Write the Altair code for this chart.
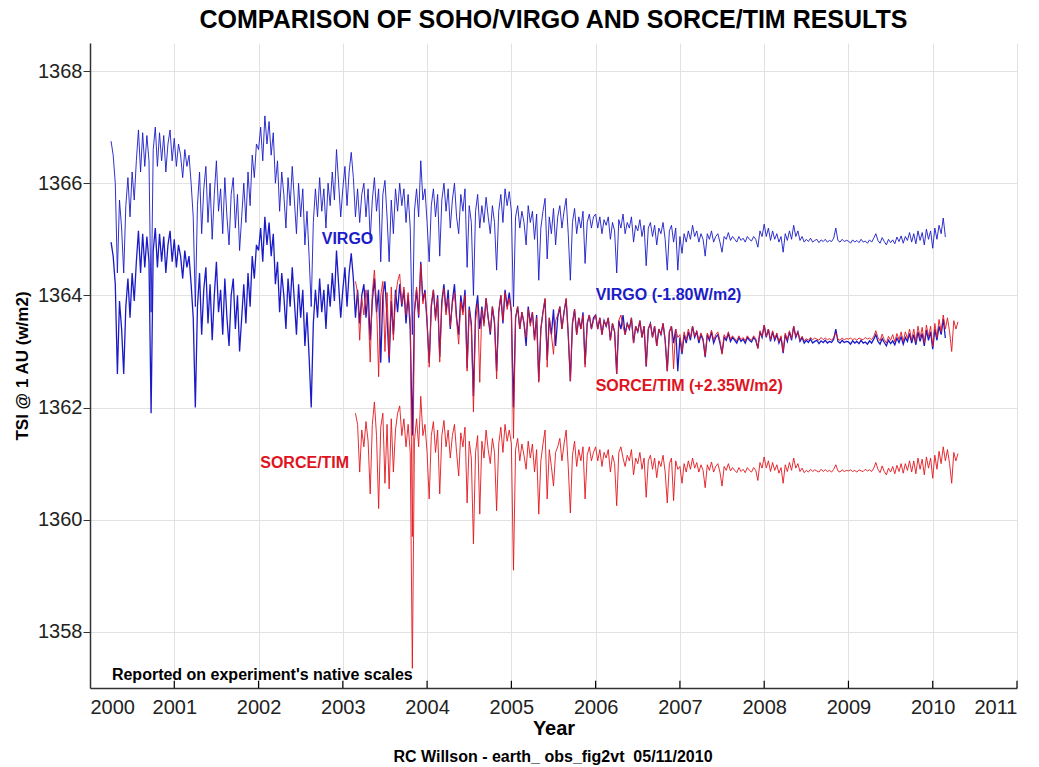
import altair as alt
import pandas as pd

STEP = 0.025  # years between readings

# ---------------- VIRGO (native scale), 2000.25 .. 2010.15 ----------------
virgo_start = 2000.25
virgo_2000 = [1366.75, 1366.50, 1366.00, 1364.40, 1365.70, 1365.20, 1364.40, 1365.60, 1366.10, 1365.40,
              1366.20, 1365.70, 1366.40, 1366.95, 1366.20, 1366.90, 1366.30, 1366.85, 1366.40, 1363.70,
              1366.60, 1367.00, 1366.30, 1366.90, 1366.40, 1366.85, 1366.20, 1366.70, 1366.95, 1366.40]
virgo_2001 = [1366.80, 1366.30, 1366.70, 1366.50, 1366.10, 1366.60, 1366.30, 1366.50, 1366.00, 1365.40,
              1363.80, 1365.60, 1366.20, 1365.10, 1365.90, 1366.30, 1365.30, 1366.00, 1365.00, 1365.80,
              1366.40, 1365.50, 1365.90, 1365.10, 1366.10, 1365.40, 1364.90, 1365.80, 1366.10, 1365.20,
              1365.80, 1364.80, 1365.40, 1366.00, 1365.30, 1366.20, 1365.60, 1366.50, 1366.10, 1366.70]
virgo_2002 = [1366.60, 1367.00, 1366.40, 1367.20, 1366.70, 1367.10, 1366.50, 1366.90, 1366.00, 1366.40,
              1365.50, 1366.20, 1365.80, 1365.20, 1366.10, 1365.60, 1366.30, 1365.70, 1365.10, 1366.00,
              1365.40, 1365.90, 1364.90, 1365.50, 1364.70, 1363.80, 1365.30, 1365.90, 1365.40, 1366.10,
              1365.50, 1365.90, 1365.20, 1366.00, 1365.60, 1366.20, 1365.70, 1366.60, 1366.00, 1365.40]
virgo_2003 = [1365.90, 1366.30, 1365.60, 1366.20, 1366.55, 1366.10, 1365.40, 1365.90, 1365.30, 1365.80,
              1366.00, 1365.40, 1365.90, 1365.00, 1365.70, 1366.10, 1365.50, 1365.90, 1364.60, 1365.80,
              1366.05, 1365.40, 1364.60, 1365.70, 1365.10, 1365.90, 1365.50, 1366.00, 1365.60, 1365.90,
              1365.30, 1365.80, 1365.20, 1363.30, 1365.50, 1365.90, 1365.40, 1366.40, 1365.70, 1365.90]
virgo_2004 = [1365.30, 1364.60, 1365.60, 1365.90, 1365.40, 1365.80, 1364.70, 1365.70, 1366.00, 1365.50,
              1365.90, 1365.20, 1365.70, 1366.00, 1365.40, 1365.10, 1365.80, 1365.50, 1365.90, 1364.50,
              1365.60, 1365.30, 1364.00, 1365.50, 1365.80, 1365.20, 1365.60, 1365.30, 1365.75, 1365.40,
              1365.10, 1365.60, 1365.30, 1364.45, 1365.50, 1365.80, 1365.30, 1365.90, 1365.60, 1365.85]
virgo_2005 = [1365.50, 1363.80, 1365.40, 1365.60, 1365.20, 1365.50, 1365.30, 1364.90, 1365.60, 1365.30,
              1365.50, 1365.00, 1365.45, 1364.27, 1365.20, 1365.50, 1365.73, 1364.65, 1365.40, 1365.10,
              1365.55, 1364.90, 1365.40, 1365.60, 1365.20, 1365.50, 1365.73, 1365.10, 1364.27, 1365.30,
              1365.55, 1365.10, 1365.40, 1365.20, 1365.50, 1364.57, 1365.30, 1365.45, 1365.20, 1365.40]
virgo_2006 = [1365.45, 1365.20, 1365.40, 1365.10, 1365.35, 1365.25, 1365.40, 1365.00, 1365.30, 1365.15,
              1364.40, 1365.35, 1365.20, 1365.45, 1365.10, 1365.30, 1365.20, 1365.40, 1364.95, 1365.25,
              1365.15, 1365.35, 1365.05, 1365.25, 1364.53, 1365.20, 1365.30, 1365.05, 1365.25, 1364.90,
              1365.20, 1365.10, 1365.30, 1365.00, 1364.45, 1365.15, 1365.25, 1364.95, 1365.20, 1364.45]
virgo_2007 = [1365.05, 1364.75, 1365.10, 1364.95, 1365.15, 1365.00, 1365.25, 1365.05, 1365.15, 1364.95,
              1365.10, 1365.00, 1364.70, 1365.10, 1365.00, 1365.15, 1364.95, 1365.05, 1365.10, 1364.95,
              1364.77, 1365.05, 1365.00, 1365.12, 1364.98, 1365.05, 1365.00, 1364.95, 1365.05, 1364.98,
              1365.02, 1364.95, 1365.05, 1365.00, 1364.97, 1365.05, 1365.00, 1364.86, 1365.15, 1365.05]
virgo_2008 = [1365.27, 1365.05, 1365.20, 1364.98, 1365.15, 1365.00, 1365.10, 1364.95, 1365.05, 1364.77,
              1365.10, 1364.98, 1365.15, 1365.00, 1365.25, 1365.05, 1365.15, 1364.98, 1365.05, 1364.95,
              1365.00, 1364.96, 1365.02, 1364.95, 1364.98, 1365.00, 1364.94, 1364.99, 1364.96, 1365.00,
              1364.95, 1364.98, 1364.96, 1365.02, 1365.20, 1364.98, 1364.95, 1365.00, 1364.96, 1364.98]
virgo_2009 = [1364.97, 1364.93, 1364.99, 1364.95, 1364.98, 1364.94, 1365.00, 1364.95, 1364.97, 1364.93,
              1364.99, 1364.95, 1365.02, 1365.10, 1364.98, 1364.93, 1365.03, 1364.96, 1364.90, 1365.00,
              1364.94, 1364.99, 1364.92, 1365.04, 1364.96, 1365.06, 1364.93, 1365.05, 1364.98, 1365.12,
              1364.95, 1365.10, 1364.92, 1365.15, 1364.98, 1365.12, 1364.90, 1365.18, 1365.00, 1365.15]
virgo_2010 = [1364.84, 1365.20, 1365.00, 1365.25, 1365.10, 1365.38, 1365.04]

# ---------------- SORCE/TIM (native scale), 2003.15 .. 2010.30 ----------------
sorce_start = 2003.15
sorce_2003 = [1361.90, 1361.70, 1360.85, 1361.60, 1361.30, 1361.75, 1361.40, 1360.46, 1361.70, 1362.10,
              1361.50, 1360.20, 1361.65, 1361.90, 1360.65, 1361.70, 1360.55, 1361.80, 1360.85, 1361.60,
              1361.90, 1362.03, 1361.50, 1361.80, 1361.30, 1361.70, 1361.20, 1357.35, 1361.40, 1361.80,
              1361.30, 1362.20, 1361.50, 1361.70]
sorce_2004 = [1361.20, 1360.37, 1361.50, 1361.75, 1361.20, 1361.60, 1360.46, 1361.50, 1361.77, 1361.30,
              1361.60, 1361.10, 1361.50, 1361.70, 1361.20, 1360.78, 1361.55, 1361.30, 1361.65, 1360.30,
              1361.40, 1361.10, 1359.57, 1361.20, 1361.50, 1360.10, 1361.40, 1361.10, 1361.60, 1361.25,
              1361.00, 1361.45, 1361.20, 1360.16, 1361.35, 1361.65, 1361.20, 1361.70, 1361.40, 1361.60]
sorce_2005 = [1361.35, 1359.10, 1361.25, 1361.45, 1361.05, 1361.35, 1361.15, 1360.90, 1361.40, 1361.10,
              1361.35, 1360.85, 1361.25, 1360.10, 1361.05, 1361.35, 1361.60, 1360.37, 1361.25, 1360.95,
              1360.60, 1361.20, 1361.30, 1361.45, 1361.05, 1361.35, 1361.60, 1360.95, 1360.12, 1361.15,
              1361.40, 1360.95, 1361.25, 1361.05, 1361.30, 1360.37, 1361.15, 1361.30, 1361.05, 1361.20]
sorce_2006 = [1361.30, 1361.05, 1361.25, 1360.95, 1361.20, 1361.10, 1361.25, 1360.85, 1361.15, 1361.00,
              1360.25, 1361.20, 1361.30, 1361.10, 1360.95, 1361.15, 1361.05, 1361.25, 1360.80, 1361.10,
              1361.00, 1361.20, 1360.90, 1361.10, 1360.40, 1361.05, 1361.15, 1360.90, 1361.10, 1360.75,
              1361.05, 1360.95, 1361.15, 1360.85, 1360.30, 1361.00, 1361.10, 1360.34, 1361.05, 1360.90]
sorce_2007 = [1360.95, 1360.65, 1361.00, 1360.85, 1361.05, 1360.90, 1361.10, 1360.92, 1361.02, 1360.85,
              1360.98, 1360.88, 1360.57, 1360.98, 1360.88, 1361.03, 1360.85, 1360.95, 1361.00, 1360.85,
              1360.60, 1360.95, 1360.88, 1361.00, 1360.87, 1360.93, 1360.88, 1360.84, 1360.93, 1360.86,
              1360.90, 1360.84, 1360.93, 1360.88, 1360.85, 1360.93, 1360.88, 1360.70, 1361.02, 1360.92]
sorce_2008 = [1361.12, 1360.92, 1361.05, 1360.86, 1361.02, 1360.88, 1360.98, 1360.83, 1360.93, 1360.65,
              1360.98, 1360.86, 1361.02, 1360.88, 1361.10, 1360.92, 1361.00, 1360.86, 1360.92, 1360.84,
              1360.88, 1360.85, 1360.90, 1360.86, 1360.89, 1360.87, 1360.85, 1360.90, 1360.86, 1360.89,
              1360.86, 1360.88, 1360.85, 1360.90, 1360.98, 1360.87, 1360.85, 1360.89, 1360.86, 1360.88]
sorce_2009 = [1360.87, 1360.89, 1360.86, 1360.88, 1360.85, 1360.89, 1360.87, 1360.86, 1360.90, 1360.87,
              1360.89, 1360.86, 1360.92, 1361.02, 1360.90, 1360.84, 1360.96, 1360.86, 1360.80, 1360.92,
              1360.85, 1360.95, 1360.82, 1360.97, 1360.86, 1361.00, 1360.83, 1361.00, 1360.88, 1361.05,
              1360.85, 1361.05, 1360.82, 1361.10, 1360.90, 1361.08, 1360.80, 1361.12, 1360.92, 1361.10]
sorce_2010 = [1360.74, 1361.15, 1360.90, 1361.22, 1361.00, 1361.30, 1361.05, 1361.25, 1361.00, 1360.65,
              1361.20, 1361.05, 1361.18]

VIRGO_OFFSET = -1.80   # W/m2 shift applied to VIRGO
SORCE_OFFSET = 2.35    # W/m2 shift applied to SORCE/TIM

x_ticks = list(range(2000, 2012))
y_ticks = [1358, 1360, 1362, 1364, 1366, 1368]

ann_labels = ["VIRGO", "VIRGO (-1.80W/m2)", "SORCE/TIM (+2.35W/m2)", "SORCE/TIM",
              "Reported on experiment's native scales"]
ann_x = [2002.75, 2006.0, 2006.0, 2002.02, 2000.26]
ann_y = [1365.0, 1364.0, 1362.39, 1361.02, 1357.23]
ann_color = ["#1c1cc8", "#1c1cc8", "#e0141e", "#e0141e", "#000000"]
ann_size = [16, 16, 16, 16, 16]

BLUE = "#1a1ac8"
RED = "#e3161d"
FONT = "Liberation Sans"

virgo_vals = (virgo_2000 + virgo_2001 + virgo_2002 + virgo_2003 + virgo_2004 + virgo_2005 +
              virgo_2006 + virgo_2007 + virgo_2008 + virgo_2009 + virgo_2010)
sorce_vals = (sorce_2003 + sorce_2004 + sorce_2005 + sorce_2006 + sorce_2007 + sorce_2008 +
              sorce_2009 + sorce_2010)

virgo = pd.DataFrame({"year": [round(virgo_start + i * STEP, 4) for i in range(len(virgo_vals))],
                      "tsi": virgo_vals})
sorce = pd.DataFrame({"year": [round(sorce_start + i * STEP, 4) for i in range(len(sorce_vals))],
                      "tsi": sorce_vals})
virgo_adj = virgo.assign(tsi=virgo["tsi"] + VIRGO_OFFSET)
sorce_adj = sorce.assign(tsi=sorce["tsi"] + SORCE_OFFSET)

xscale = alt.Scale(domain=[2000, 2011], nice=False, zero=False)
yscale = alt.Scale(domain=[1357, 1368.5], nice=False, zero=False)

xenc = alt.X("year:Q", scale=xscale,
             axis=alt.Axis(values=x_ticks, format="d", title="Year", grid=True, ticks=False,
                           labelPadding=9, titlePadding=1, titleFontSize=20))
yenc = alt.Y("tsi:Q", scale=yscale,
             axis=alt.Axis(values=y_ticks, format="d", title="TSI @ 1 AU (w/m2)", grid=True,
                           tickSize=7, labelPadding=1, titlePadding=6, titleFontSize=17))


def line(df, color, width, opacity=1.0):
    return alt.Chart(df).mark_line(color=color, strokeWidth=width, opacity=opacity,
                                   strokeJoin="miter", clip=True).encode(x=xenc, y=yenc)


ticks = alt.Chart(pd.DataFrame({"year": x_ticks[1:]})).mark_rule(color="black", strokeWidth=1.2).encode(
    x=alt.X("year:Q", scale=xscale), y=alt.datum(1357), y2=alt.datum(1357.13))

ann = alt.Chart(pd.DataFrame({"label": ann_labels, "year": ann_x, "tsi": ann_y,
                              "color": ann_color, "size": ann_size})).mark_text(
    align="left", baseline="middle", fontWeight="bold", font=FONT).encode(
    x=alt.X("year:Q", scale=xscale), y=alt.Y("tsi:Q", scale=yscale),
    text="label:N", color=alt.Color("color:N", scale=None), size=alt.Size("size:Q", scale=None))

footer = alt.Chart(pd.DataFrame({"t": ["RC Willson - earth_ obs_fig2vt\u00a0 05/11/2010"]})).mark_text(
    align="center", baseline="middle", fontWeight="bold", font=FONT, fontSize=16, color="black").encode(
    x=alt.value(463), y=alt.value(714), text="t:N")

chart = alt.layer(
    line(virgo, BLUE, 0.9),
    line(virgo_adj, BLUE, 1.3),
    line(sorce_adj, RED, 1.0, 0.9),
    line(sorce, RED, 0.9),
    ticks, ann, footer,
).properties(
    width=927, height=645,
    background="white",
    autosize=alt.AutoSizeParams(type="none"),
    padding={"left": 90, "top": 43, "right": 22, "bottom": 79},
    title=alt.TitleParams("COMPARISON OF SOHO/VIRGO AND SORCE/TIM RESULTS", fontSize=25,
                          fontWeight="bold", font=FONT, anchor="middle", offset=10, color="black"),
).configure_view(stroke=None).configure_axis(
    labelFont=FONT, labelFontSize=20, labelColor="#222222", titleFont=FONT,
    titleFontWeight="bold", titleColor="black", domainColor="#333333", domainWidth=1.5,
    tickColor="#333333", gridColor="#e2e2e2", gridWidth=1,
)

chart.save("out.html", embed_options={"renderer": "svg", "actions": False})
